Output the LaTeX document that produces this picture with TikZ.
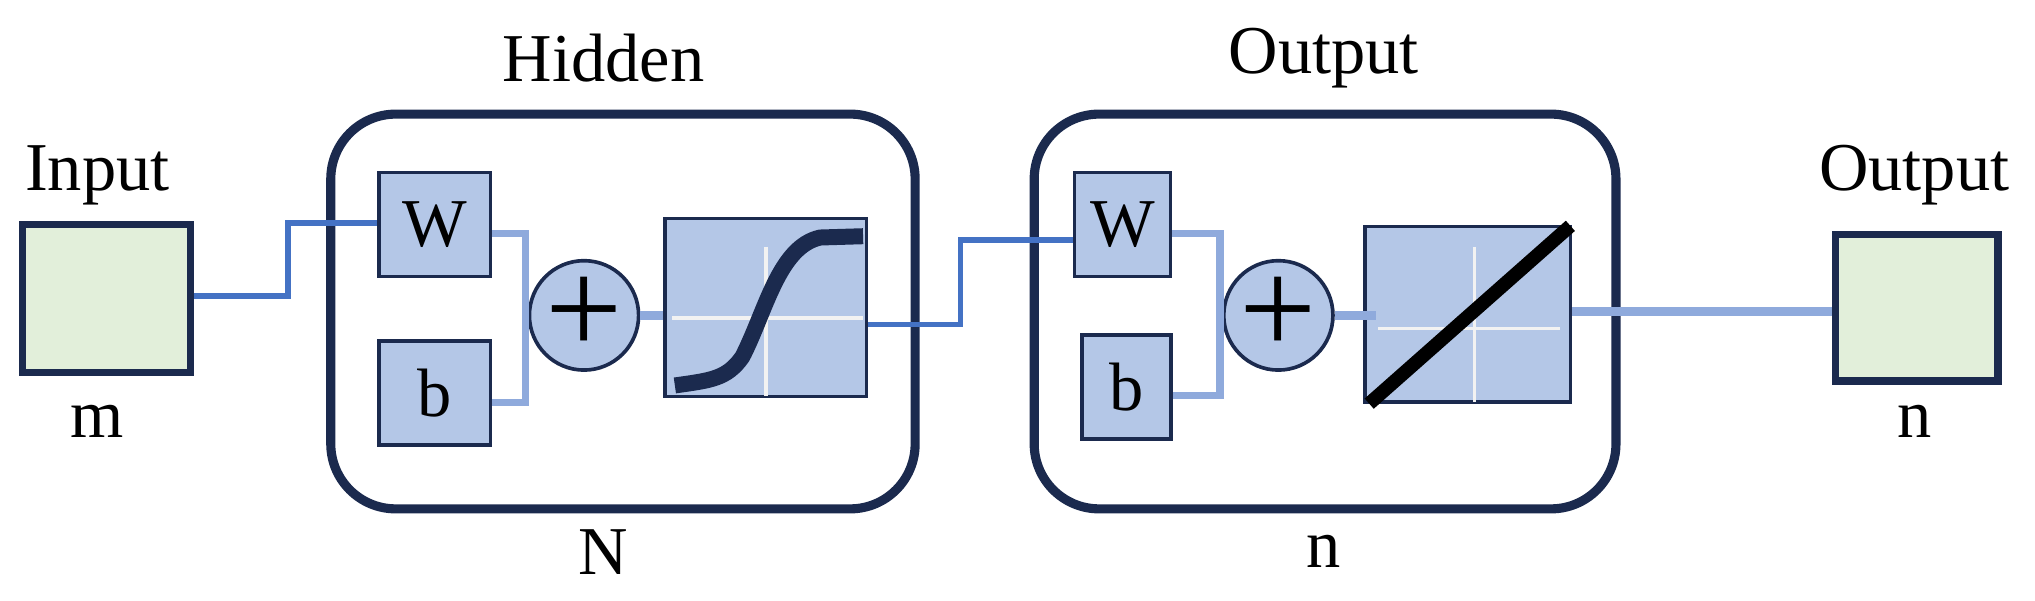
\documentclass[tikz,border=0pt]{standalone}
\usepackage{fontspec}
\setmainfont{Liberation Serif}
\usetikzlibrary{shapes.geometric}
\definecolor{navy}{HTML}{1B2A4E}
\definecolor{fillb}{HTML}{B4C7E7}
\definecolor{fillg}{HTML}{E2EFDA}
\definecolor{lineb}{HTML}{4472C4}
\definecolor{lightb}{HTML}{8FAADC}
\begin{document}
\begin{tikzpicture}[x=0.01cm,y=-0.01cm,
  blk/.style={draw=navy,fill=fillb,line width=0.8pt,inner sep=0pt},
  io/.style={draw=navy,fill=fillg,line width=1.6pt,inner sep=0pt},
  layer/.style={draw=navy,line width=2pt,rounded corners=0.5cm,inner sep=0pt},
  lbl/.style={font=\fontsize{15}{17}\selectfont},
  plus/.style={font=\fontsize{30}{30}\selectfont},
  wire/.style={draw=lineb,line width=1.2pt},
  lwire/.style={draw=lightb,line width=2pt},
  grid/.style={draw=white!90!gray,line width=0.8pt}]
\useasboundingbox (0,0) rectangle (1568,463);
% layers
\node[layer,minimum width=4.5cm,minimum height=3.04cm] (hid) at (480,240) {};
\node[layer,minimum width=4.48cm,minimum height=3.04cm] (out) at (1021,240) {};
\node[lbl] (hidl) at (465,45) {Hidden};
\node[lbl] (hidn) at (465,425) {N};
\node[lbl] (outl) at (1020,45) {Output};
\node[lbl] (outn) at (1020,425) {n};
% io boxes
\node[io,minimum width=1.29cm,minimum height=1.14cm] (in) at (82,230) {};
\node[lbl] (inl) at (75,135) {Input};
\node[lbl] (inm) at (75,325) {m};
\node[io,minimum width=1.25cm,minimum height=1.13cm] (res) at (1477,237) {};
\node[lbl] (resl) at (1475,135) {Output};
\node[lbl] (resn) at (1475,325) {n};
% hidden internals
\node[blk,minimum width=0.86cm,minimum height=0.8cm,lbl] (w1) at (335,173) {W};
\node[blk,minimum width=0.86cm,minimum height=0.8cm,lbl] (b1) at (335,303) {b};
\node[blk,ellipse,minimum width=0.62cm,minimum height=0.74cm,plus] (p1) at (450,243) {+};
\node[blk,minimum width=1.55cm,minimum height=1.37cm] (s1) at (590,237) {};
% output internals
\node[blk,minimum width=0.74cm,minimum height=0.8cm,lbl] (w2) at (865,173) {W};
\node[blk,minimum width=0.69cm,minimum height=0.8cm,lbl] (b2) at (868,298) {b};
\node[blk,ellipse,minimum width=0.62cm,minimum height=0.78cm,plus] (p2) at (985,243) {+};
\node[blk,minimum width=1.58cm,minimum height=1.35cm] (s2) at (1131,242) {};
% sigmoid box contents
\draw[grid] (518,245) -- (665,245);
\draw[grid] (590,190) -- (590,305);
\draw[navy,line width=3.5pt] (520,297) .. controls (548,293) and (560,292) .. (572,275) .. controls (590,240) and (600,190) .. (632,183) -- (665,182);
\draw[grid] (1062,253) -- (1202,253);
\draw[grid] (1136,190) -- (1136,310);
\draw[black,line width=3pt] (1055,311) -- (1210,174);
% wires
\draw[wire] (in.east |- 0,228) -- (222,228) -- (222,172) -- (w1.west |- 0,172);
\draw[wire] (s1.east |- 0,250) -- (740,250) -- (740,185) -- (w2.west |- 0,185);
\draw[lwire,line width=1.6pt] (w1.east |- 0,180) -| (405,310) -- (b1.east |- 0,310);
\draw[lwire] (405,243) -- (p1.west);
\draw[lwire] (p1.east) -- (s1.west |- 0,243);
\draw[lwire,line width=1.6pt] (w2.east |- 0,180) -| (940,305) -- (b2.east |- 0,305);
\draw[lwire] (940,243) -- (p2.west);
\draw[lwire] (p2.east) -- (1060,243);
\draw[lwire] (s2.east |- 0,240) -- (res.west |- 0,240);
\end{tikzpicture}
\end{document}
